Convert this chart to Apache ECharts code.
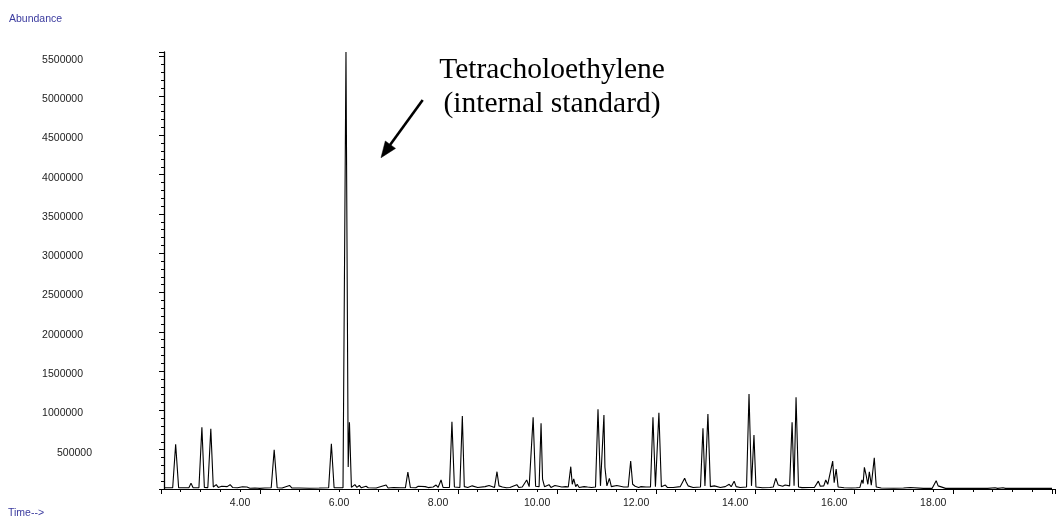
<!DOCTYPE html>
<html>
<head>
<meta charset="utf-8">
<title>Total ion chromatogram</title>
<script src="https://cdn.jsdelivr.net/npm/echarts@6/dist/echarts.min.js"></script>
<style>
  html, body { margin: 0; padding: 0; background: #ffffff; }
  #chart { width: 1057px; height: 519px; }
</style>
</head>
<body>
<div id="chart"></div>
<script>
// Retention time (min) of each vertex of the detector trace
const traceTime = [
  2.47, 2.64, 2.70, 2.76, 2.80, 2.90, 2.97, 3.01, 3.05, 3.17,
  3.23, 3.28, 3.35, 3.41, 3.46, 3.52, 3.56, 3.63, 3.67, 3.74,
  3.80, 3.85, 3.95, 4.05, 4.09, 4.14, 4.20, 4.30, 4.40, 4.50,
  4.63, 4.69, 4.75, 4.85, 5.00, 5.05, 5.20, 5.40, 5.60, 5.79,
  5.845, 5.90, 6.08, 6.14, 6.185, 6.21, 6.25, 6.32, 6.36, 6.41,
  6.45, 6.545, 6.59, 6.75, 6.95, 6.99, 7.10, 7.25, 7.34, 7.39,
  7.44, 7.55, 7.60, 7.64, 7.74, 7.80, 7.90, 7.96, 8.00, 8.06,
  8.10, 8.23, 8.28, 8.33, 8.44, 8.49, 8.53, 8.56, 8.60, 8.69,
  8.73, 8.80, 8.95, 8.99, 9.03, 9.07, 9.14, 9.19, 9.23, 9.26,
  9.30, 9.33, 9.38, 9.45, 9.59, 9.63, 9.70, 9.79, 9.84, 9.88,
  9.92, 9.97, 10.04, 10.08, 10.11, 10.15, 10.24, 10.28, 10.36, 10.40,
  10.50, 10.58, 10.63, 10.68, 10.71, 10.74, 10.78, 10.81, 10.85, 10.95,
  11.02, 11.10, 11.18, 11.23, 11.28, 11.31, 11.35, 11.37, 11.41, 11.46,
  11.50, 11.61, 11.65, 11.75, 11.84, 11.89, 11.93, 11.95, 11.98, 12.01,
  12.05, 12.10, 12.20, 12.29, 12.34, 12.39, 12.42, 12.46, 12.51, 12.59,
  12.63, 12.75, 12.89, 12.93, 12.98, 13.01, 13.05, 13.15, 13.30, 13.35,
  13.39, 13.41, 13.45, 13.50, 13.58, 13.62, 13.70, 13.80, 13.88, 13.92,
  13.98, 14.02, 14.10, 14.23, 14.28, 14.33, 14.38, 14.42, 14.55, 14.70,
  14.77, 14.82, 14.87, 14.91, 14.96, 15.01, 15.05, 15.10, 15.15, 15.19,
  15.23, 15.28, 15.35, 15.50, 15.60, 15.68, 15.72, 15.76, 15.79, 15.83,
  15.87, 15.91, 15.97, 16.00, 16.04, 16.08, 16.20, 16.35, 16.45, 16.52,
  16.56, 16.585, 16.61, 16.645, 16.68, 16.71, 16.75, 16.81, 16.85, 16.95,
  17.20, 17.40, 17.54, 17.58, 17.80, 17.98, 18.06, 18.10, 18.14, 18.25,
  18.60, 19.10, 19.25, 19.30, 19.41, 19.46, 19.60, 20.40
];

// Abundance (counts) at each vertex above
const traceAbundance = [
  15000, 15000, 570000, 15000, 20000, 15000, 18000, 75000, 18000, 15000,
  785000, 20000, 18000, 765000, 25000, 55000, 20000, 35000, 15000, 30000,
  55000, 20000, 15000, 28000, 12000, 25000, 10000, 12000, 8000, 12000,
  15000, 500000, 15000, 12000, 45000, 12000, 12000, 10000, 12000, 15000,
  575000, 15000, 15000, 5560000, 280000, 850000, 20000, 55000, 20000, 45000,
  15000, 35000, 15000, 12000, 50000, 12000, 20000, 15000, 15000, 216000,
  20000, 15000, 35000, 15000, 30000, 18000, 25000, 50000, 20000, 115000,
  20000, 20000, 856000, 25000, 20000, 930000, 30000, 45000, 18000, 40000,
  15000, 20000, 30000, 15000, 45000, 20000, 20000, 220000, 40000, 60000,
  25000, 40000, 15000, 20000, 55000, 20000, 25000, 115000, 30000, 30000,
  912000, 35000, 30000, 836000, 127000, 30000, 55000, 20000, 45000, 20000,
  25000, 30000, 25000, 284000, 60000, 130000, 30000, 60000, 20000, 30000,
  25000, 20000, 25000, 1014000, 40000, 30000, 940000, 276000, 40000, 136000,
  30000, 45000, 20000, 25000, 25000, 356000, 60000, 70000, 35000, 55000,
  20000, 30000, 25000, 25000, 912000, 30000, 30000, 971000, 30000, 50000,
  20000, 20000, 30000, 50000, 136000, 90000, 40000, 20000, 25000, 772000,
  40000, 40000, 954000, 30000, 40000, 20000, 20000, 30000, 60000, 30000,
  100000, 30000, 20000, 25000, 1209000, 40000, 687000, 25000, 15000, 20000,
  25000, 136000, 50000, 45000, 35000, 50000, 40000, 40000, 848000, 40000,
  1166000, 25000, 18000, 20000, 20000, 100000, 35000, 60000, 40000, 115000,
  60000, 45000, 356000, 80000, 254000, 25000, 15000, 12000, 15000, 20000,
  115000, 70000, 276000, 178000, 60000, 220000, 50000, 398000, 25000, 12000,
  10000, 12000, 20000, 10000, 8000, 8000, 106000, 40000, 15000, 8000,
  8000, 8000, 15000, 8000, 15000, 8000, 8000, 8000
];

// Axis ranges and steps
const timeRange = [2.4, 20.46];
const timeTickStep = 0.4;
const timeLabelStep = 2;
const timeLabelLast = 18;
const abundanceRange = [0, 5560000];
const abundanceStep = 500000;

const titleY = 'Abundance';
const titleX = 'Time-->';
const noteLines = ['Tetracholoethylene', '(internal standard)'];

const traceData = traceTime.map((t, i) => [t, traceAbundance[i]]);

const chart = echarts.init(document.getElementById('chart'), null, { renderer: 'canvas' });

const blue = '#3a3a9e';
const sans = '"Liberation Sans", Arial, sans-serif';
const serif = '29.5px "Liberation Serif", "Times New Roman", serif';

chart.setOption({
  animation: false,
  backgroundColor: '#ffffff',
  grid: { left: 160.8, right: 2, top: 52, bottom: 30, containLabel: false },
  xAxis: [
    {
      type: 'value',
      min: timeRange[0],
      max: timeRange[1],
      interval: timeTickStep,
      position: 'bottom',
      axisLine: { show: true, onZero: false, lineStyle: { color: '#000', width: 1 } },
      axisTick: { show: true, length: 3, lineStyle: { color: '#000', width: 1 } },
      splitLine: { show: false },
      axisLabel: {
        show: true,
        margin: 9,
        color: '#222',
        fontSize: 10.5,
        fontFamily: sans,
        showMinLabel: false,
        showMaxLabel: false,
        formatter: function (v) {
          const r = Math.round(v);
          if (Math.abs(v - r) < 1e-6 && r % timeLabelStep === 0 && r <= timeLabelLast) return r.toFixed(2);
          return '';
        }
      }
    },
    {
      // longer tick every 2 minutes, offset 0.4 min from the labels
      type: 'value',
      min: 0,
      max: timeRange[1] - timeRange[0],
      interval: timeLabelStep,
      position: 'bottom',
      axisLine: { show: false, onZero: false },
      axisTick: { show: true, length: 5, lineStyle: { color: '#000', width: 1 } },
      axisLabel: { show: false },
      splitLine: { show: false }
    }
  ],
  yAxis: {
    type: 'value',
    min: abundanceRange[0],
    max: abundanceRange[1],
    interval: abundanceStep,
    offset: -3.2,
    axisLine: { show: true, lineStyle: { color: '#000', width: 1.3 } },
    axisTick: { show: true, length: 5, lineStyle: { color: '#000', width: 1 } },
    minorTick: { show: true, splitNumber: 5, length: 3, lineStyle: { color: '#000', width: 1 } },
    splitLine: { show: false },
    minorSplitLine: { show: false },
    axisLabel: {
      show: true,
      align: 'right',
      margin: 72,
      showMaxLabel: false,
      formatter: function (v) {
        if (v <= 0 || v % abundanceStep !== 0) return '';
        const s = String(v);
        return s.length > 6 ? '{w|' + s + '}' : '{n|' + s + '}';
      },
      rich: {
        w: { fontSize: 10.5, fontFamily: sans, color: '#222', padding: [6, 9, 0, 0] },
        n: { fontSize: 10.5, fontFamily: sans, color: '#222', padding: [6, 0, 0, 0] }
      }
    }
  },
  series: [
    {
      type: 'line',
      xAxisIndex: 0,
      yAxisIndex: 0,
      data: traceData,
      showSymbol: false,
      symbol: 'none',
      sampling: false,
      lineStyle: { color: '#000', width: 1.1 },
      silent: true
    }
  ],
  graphic: [
    {
      type: 'text', left: 9, top: 14,
      style: { text: titleY, fill: blue, font: '10.5px ' + sans }
    },
    {
      type: 'text', left: 8, top: 508,
      style: { text: titleX, fill: blue, font: '10.5px ' + sans }
    },
    {
      type: 'text', x: 552, y: 70,
      style: { text: noteLines[0], fill: '#000', font: serif, align: 'center', verticalAlign: 'middle' }
    },
    {
      type: 'text', x: 552, y: 104,
      style: { text: noteLines[1], fill: '#000', font: serif, align: 'center', verticalAlign: 'middle' }
    },
    {
      type: 'line',
      shape: { x1: 422.7, y1: 100, x2: 390, y2: 145 },
      style: { stroke: '#000', lineWidth: 2.6 }
    },
    {
      type: 'polygon',
      shape: { points: [[381, 157.7], [395.5, 148.4], [385.3, 141.0]] },
      style: { fill: '#000', stroke: '#000', lineWidth: 0.5 }
    }
  ]
});
</script>
</body>
</html>
